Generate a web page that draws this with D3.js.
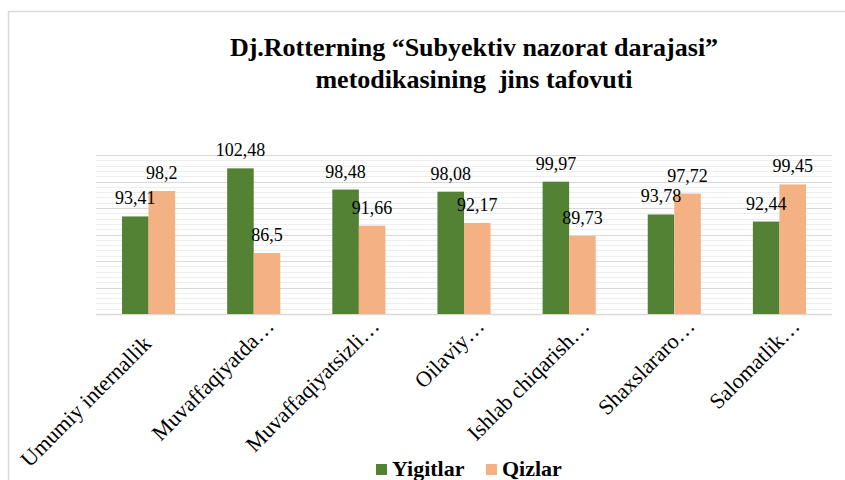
<!DOCTYPE html>
<html>
<head>
<meta charset="utf-8">
<script src="https://cdn.jsdelivr.net/npm/d3@7"></script>
<style>
  body { margin: 0; background: #fff; }
  svg { display: block; }
  svg text { font-family: 'Liberation Serif', 'Times New Roman', 'DejaVu Serif', serif; }
</style>
</head>
<body>
<div id="chart"></div>
<script>
// chart data
const categories = ["Umumiy internallik", "Muvaffaqiyatda…", "Muvaffaqiyatsizli…", "Oilaviy…",
    "Ishlab chiqarish…", "Shaxslararo…", "Salomatlik…"];
const seriesNames = ["Yigitlar", "Qizlar"];
const yigitlar = [93.41, 102.48, 98.48, 98.08, 99.97, 93.78, 92.44];
const qizlar = [98.2, 86.5, 91.66, 92.17, 89.73, 97.72, 99.45];
const yDomain = [75, 105];
const titleLines = ["Dj.Rotterning \u201cSubyektiv nazorat darajasi\u201d", "metodikasining\u00a0 jins tafovuti"];

const colors = { Yigitlar: "#548235", Qizlar: "#f4b183" };

const W = 845, H = 480;
const plot = { left: 96, right: 832, top: 155, bottom: 314 };

const svg = d3.select("#chart").append("svg")
    .attr("width", W)
    .attr("height", H);

svg.append("rect").attr("width", W).attr("height", H).attr("fill", "#fff");

// chart area border (only top and left visible)
svg.append("path")
    .attr("d", "M8.5," + H + "V11.5H" + W)
    .attr("fill", "none")
    .attr("stroke", "#d9d9d9")
    .attr("stroke-width", 1.5);

// title
svg.append("text")
    .attr("x", 474)
    .attr("y", 56)
    .attr("text-anchor", "middle")
    .attr("font-size", "26px")
    .attr("font-weight", "bold")
    .selectAll("tspan")
    .data(titleLines)
    .enter()
    .append("tspan")
    .attr("x", 474)
    .attr("dy", (d, i) => i === 0 ? 0 : 32)
    .text(d => d);

// scales
const x0 = d3.scaleBand()
    .domain(categories)
    .range([plot.left, plot.right])
    .paddingInner(0.495)
    .paddingOuter(0.2475);

const x1 = d3.scaleBand()
    .domain(seriesNames)
    .range([0, x0.bandwidth()]);

const y = d3.scaleLinear()
    .domain(yDomain)
    .range([plot.bottom, plot.top]);

// gridlines: minor every 1, major every 5
const grid = svg.append("g").attr("class", "grid");
grid.selectAll(".minor")
    .data(d3.range(yDomain[0], yDomain[1] + 1, 1).filter(v => v % 5 !== 0))
    .enter()
    .append("line")
    .attr("class", "minor")
    .attr("x1", plot.left).attr("x2", plot.right)
    .attr("y1", d => Math.round(y(d)) + 0.5)
    .attr("y2", d => Math.round(y(d)) + 0.5)
    .attr("stroke", "#eeeeee");

grid.selectAll(".major")
    .data(d3.range(yDomain[0], yDomain[1] + 1, 5))
    .enter()
    .append("line")
    .attr("class", "major")
    .attr("x1", plot.left).attr("x2", plot.right)
    .attr("y1", d => Math.round(y(d)) + 0.5)
    .attr("y2", d => Math.round(y(d)) + 0.5)
    .attr("stroke", "#d9d9d9")
    .attr("stroke-width", d => d === yDomain[0] ? 1.5 : 1);

// bars
const rows = categories.map((c, i) => ({ cat: c, values: [
    { key: "Yigitlar", value: yigitlar[i] },
    { key: "Qizlar", value: qizlar[i] }
]}));

const groups = svg.selectAll(".group")
    .data(rows)
    .enter()
    .append("g")
    .attr("class", "group")
    .attr("transform", d => "translate(" + x0(d.cat) + ",0)");

groups.selectAll("rect")
    .data(d => d.values)
    .enter()
    .append("rect")
    .attr("x", d => x1(d.key))
    .attr("width", x1.bandwidth())
    .attr("y", d => y(d.value))
    .attr("height", d => y(yDomain[0]) - y(d.value))
    .attr("fill", d => colors[d.key]);

groups.selectAll(".label")
    .data(d => d.values)
    .enter()
    .append("text")
    .attr("class", "label")
    .attr("x", d => x1(d.key) + x1.bandwidth() / 2)
    .attr("y", d => y(d.value) - 12)
    .attr("text-anchor", "middle")
    .attr("font-size", "18px")
    .attr("fill", "#000")
    .text(d => String(d.value).replace(".", ","));

// category axis labels, rotated; truncated ones sit a bit further out
svg.append("g")
    .selectAll("text")
    .data(categories)
    .enter()
    .append("text")
    .attr("transform", d => "translate(" + (x0(d) + x0.bandwidth() / 2 + 4) + "," + (plot.bottom + 31) + ") rotate(-45)")
    .attr("x", d => d.endsWith("…") ? 25 : 0)
    .attr("text-anchor", "end")
    .attr("font-size", "22px")
    .attr("fill", "#000")
    .text(d => d);

// legend
const legend = svg.append("g").attr("transform", "translate(376,464)");
const legendX = [0, 110];
seriesNames.forEach((s, i) => {
    const g = legend.append("g").attr("transform", "translate(" + legendX[i] + ",0)");
    g.append("rect").attr("width", 11).attr("height", 11).attr("fill", colors[s]);
    g.append("text")
        .attr("x", 16)
        .attr("y", 12)
        .attr("font-size", "22px")
        .attr("font-weight", "bold")
        .text(s);
});
</script>
</body>
</html>
